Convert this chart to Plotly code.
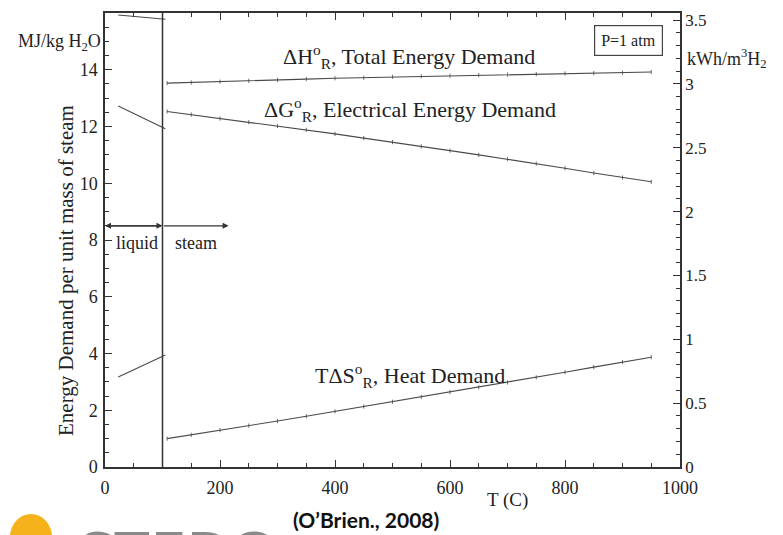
import plotly.graph_objects as go

# ---- data ----
T_liquid = [23, 105]
dH_liquid = [15.93, 15.78]
dG_liquid = [12.72, 11.92]
TdS_liquid = [3.17, 3.95]

T_steam = [108, 150, 200, 250, 300, 350, 400, 450, 500, 550, 600, 650, 700, 750, 800, 850, 900, 950]
dH_steam = [13.53, 13.55, 13.58, 13.61, 13.64, 13.67, 13.70, 13.72, 13.75, 13.77, 13.79, 13.81, 13.83, 13.85, 13.87, 13.88, 13.90, 13.92]
dG_steam = [12.53, 12.42, 12.28, 12.15, 12.02, 11.88, 11.74, 11.59, 11.45, 11.30, 11.15, 11.00, 10.85, 10.69, 10.53, 10.36, 10.20, 10.05]
TdS_steam = [1.00, 1.13, 1.30, 1.46, 1.62, 1.79, 1.96, 2.13, 2.30, 2.47, 2.64, 2.81, 2.98, 3.16, 3.34, 3.52, 3.70, 3.87]

x_ticks = [0, 200, 400, 600, 800, 1000]
y_ticks = [0, 2, 4, 6, 8, 10, 12, 14, 16]
y2_ticks = [0, 0.5, 1, 1.5, 2, 2.5, 3, 3.5]

SERIF = "Liberation Serif"
LINE = "#4a4a4a"
TXT = "#222222"

# page offset (body margin) of 8 px; plot area in page pixels: x 105..680, y 13..467
OFF = 8
W, H = 783 - OFF, 535 - OFF
L, R, T, B = 105 - OFF, 680 - OFF, 13 - OFF, 467 - OFF


def px(x):
    return (x - OFF - L) / (R - L)


def py(y):
    return (B - (y - OFF)) / (B - T)


fig = go.Figure()

for xs, ys in [(T_liquid, dH_liquid), (T_liquid, dG_liquid), (T_liquid, TdS_liquid)]:
    fig.add_trace(go.Scatter(x=xs, y=ys, mode="lines",
                             line=dict(color=LINE, width=1.1), showlegend=False,
                             hoverinfo="skip"))

for ys in [dH_steam, dG_steam, TdS_steam]:
    fig.add_trace(go.Scatter(x=T_steam, y=ys, mode="lines+markers",
                             line=dict(color=LINE, width=1.1),
                             marker=dict(symbol="line-ns", size=3,
                                         line=dict(color=LINE, width=0.8)),
                             showlegend=False, hoverinfo="skip"))

# invisible trace to activate right axis
fig.add_trace(go.Scatter(x=[0], y=[0], yaxis="y2", mode="markers",
                         marker=dict(opacity=0), showlegend=False, hoverinfo="skip"))

# liquid / steam boundary
fig.add_shape(type="line", xref="x", yref="y", x0=100, x1=100, y0=0, y1=16,
              line=dict(color="#333333", width=1.5))

C = dict(xanchor="center", yanchor="middle", showarrow=False)
ann = []
# curve labels
ann.append(dict(x=529, y=14.45, xref="x", yref="y",
                text="ΔH<sup>o</sup><sub>R</sub>, Total Energy Demand",
                font=dict(family=SERIF, size=22, color=TXT), **C))
ann.append(dict(x=531, y=12.6, xref="x", yref="y",
                text="ΔG<sup>o</sup><sub>R</sub>, Electrical Energy Demand",
                font=dict(family=SERIF, size=22, color=TXT), **C))
ann.append(dict(x=530, y=3.22, xref="x", yref="y",
                text="TΔS<sup>o</sup><sub>R</sub>, Heat Demand",
                font=dict(family=SERIF, size=22, color=TXT), **C))
# P = 1 atm box
ann.append(dict(x=px(628), y=py(40), xref="paper", yref="paper",
                text="P=1 atm", font=dict(family=SERIF, size=16, color=TXT),
                bordercolor="#444444", borderwidth=1.2, borderpad=6, bgcolor="white", **C))
# liquid / steam labels
ann.append(dict(x=56, y=7.9, xref="x", yref="y",
                text="liquid", font=dict(family=SERIF, size=18, color=TXT), **C))
ann.append(dict(x=158, y=7.9, xref="x", yref="y",
                text="steam", font=dict(family=SERIF, size=18, color=TXT), **C))
# arrows
arrow_common = dict(xref="x", yref="y", axref="x", ayref="y", showarrow=True,
                    arrowhead=2, arrowsize=1, arrowwidth=1.2, arrowcolor="#333333",
                    text="", standoff=0, startstandoff=0)
ann.append(dict(x=0, y=8.5, ax=100, ay=8.5, **arrow_common))
ann.append(dict(x=100, y=8.5, ax=0, ay=8.5, **arrow_common))
ann.append(dict(x=215, y=8.5, ax=100, ay=8.5, **arrow_common))
# unit labels
ann.append(dict(x=px(59), y=py(42), xref="paper", yref="paper",
                text="MJ/kg H<sub>2</sub>O", font=dict(family=SERIF, size=18, color=TXT), **C))
ann.append(dict(x=px(727), y=py(58), xref="paper", yref="paper",
                text="kWh/m<sup>3</sup>H<sub>2</sub>", font=dict(family=SERIF, size=18, color=TXT), **C))
# axis titles
ann.append(dict(x=px(66), y=py(271), xref="paper", yref="paper",
                textangle=-90, text="Energy Demand per unit mass of steam",
                font=dict(family=SERIF, size=21, color=TXT), **C))
ann.append(dict(x=px(507), y=py(500), xref="paper", yref="paper",
                text="T (C)", font=dict(family=SERIF, size=19, color=TXT), **C))
# source
ann.append(dict(x=px(366), y=py(520), xref="paper", yref="paper",
                text="<b>(O’Brien., 2008)</b>", font=dict(family="Lato", size=21, color="#111111"), **C))
# cropped logo lettering at bottom
ann.append(dict(x=px(178), y=py(508), xref="paper", yref="paper", showarrow=False,
                xanchor="center", yanchor="top", text="<b>STERO</b>",
                font=dict(family="Open Sans", size=64, color="#8a8a8a")))

fig.update_layout(annotations=ann)

# logo swirl (orange/yellow)
fig.add_shape(type="circle", xref="paper", yref="paper",
              x0=px(10), x1=px(52), y0=py(560), y1=py(514),
              fillcolor="#f6b21a", line=dict(width=0), layer="above")
fig.add_shape(type="path", xref="paper", yref="paper",
              path=f"M {px(0)} {py(506)} L {px(8)} {py(510)} L {px(0)} {py(522)} Z",
              fillcolor="#f39c12", line=dict(width=0), layer="above")

fig.update_layout(
    width=W, height=H,
    margin=dict(l=L, r=W - R, t=T, b=H - B, autoexpand=False),
    paper_bgcolor="white", plot_bgcolor="white",
    xaxis=dict(range=[0, 1000], tickvals=x_ticks, ticks="inside", ticklen=7,
               tickwidth=1.2, tickcolor="#333333", ticklabelstandoff=4,
               minor=dict(dtick=50, ticks="inside", ticklen=4, tickcolor="#333333"),
               showline=True, linecolor="#333333", linewidth=1.5, mirror="ticks",
               showgrid=False, zeroline=False,
               tickfont=dict(family=SERIF, size=18, color=TXT)),
    yaxis=dict(range=[0, 16], tickvals=y_ticks, ticks="inside", ticklen=7,
               tickwidth=1.2, tickcolor="#333333", ticklabelstandoff=2,
               minor=dict(dtick=0.5, ticks="inside", ticklen=4, tickcolor="#333333"),
               showline=True, linecolor="#333333", linewidth=1.5,
               showgrid=False, zeroline=False,
               tickfont=dict(family=SERIF, size=18, color=TXT)),
    yaxis2=dict(range=[0, 3.555], tickvals=y2_ticks, overlaying="y", side="right",
                ticks="inside", ticklen=7, tickwidth=1.2, tickcolor="#333333",
                minor=dict(dtick=0.1, ticks="inside", ticklen=4, tickcolor="#333333"),
                showline=True, linecolor="#333333", linewidth=1.5,
                showgrid=False, zeroline=False,
                tickfont=dict(family=SERIF, size=17, color=TXT)),
)

fig.write_html("out.html")
